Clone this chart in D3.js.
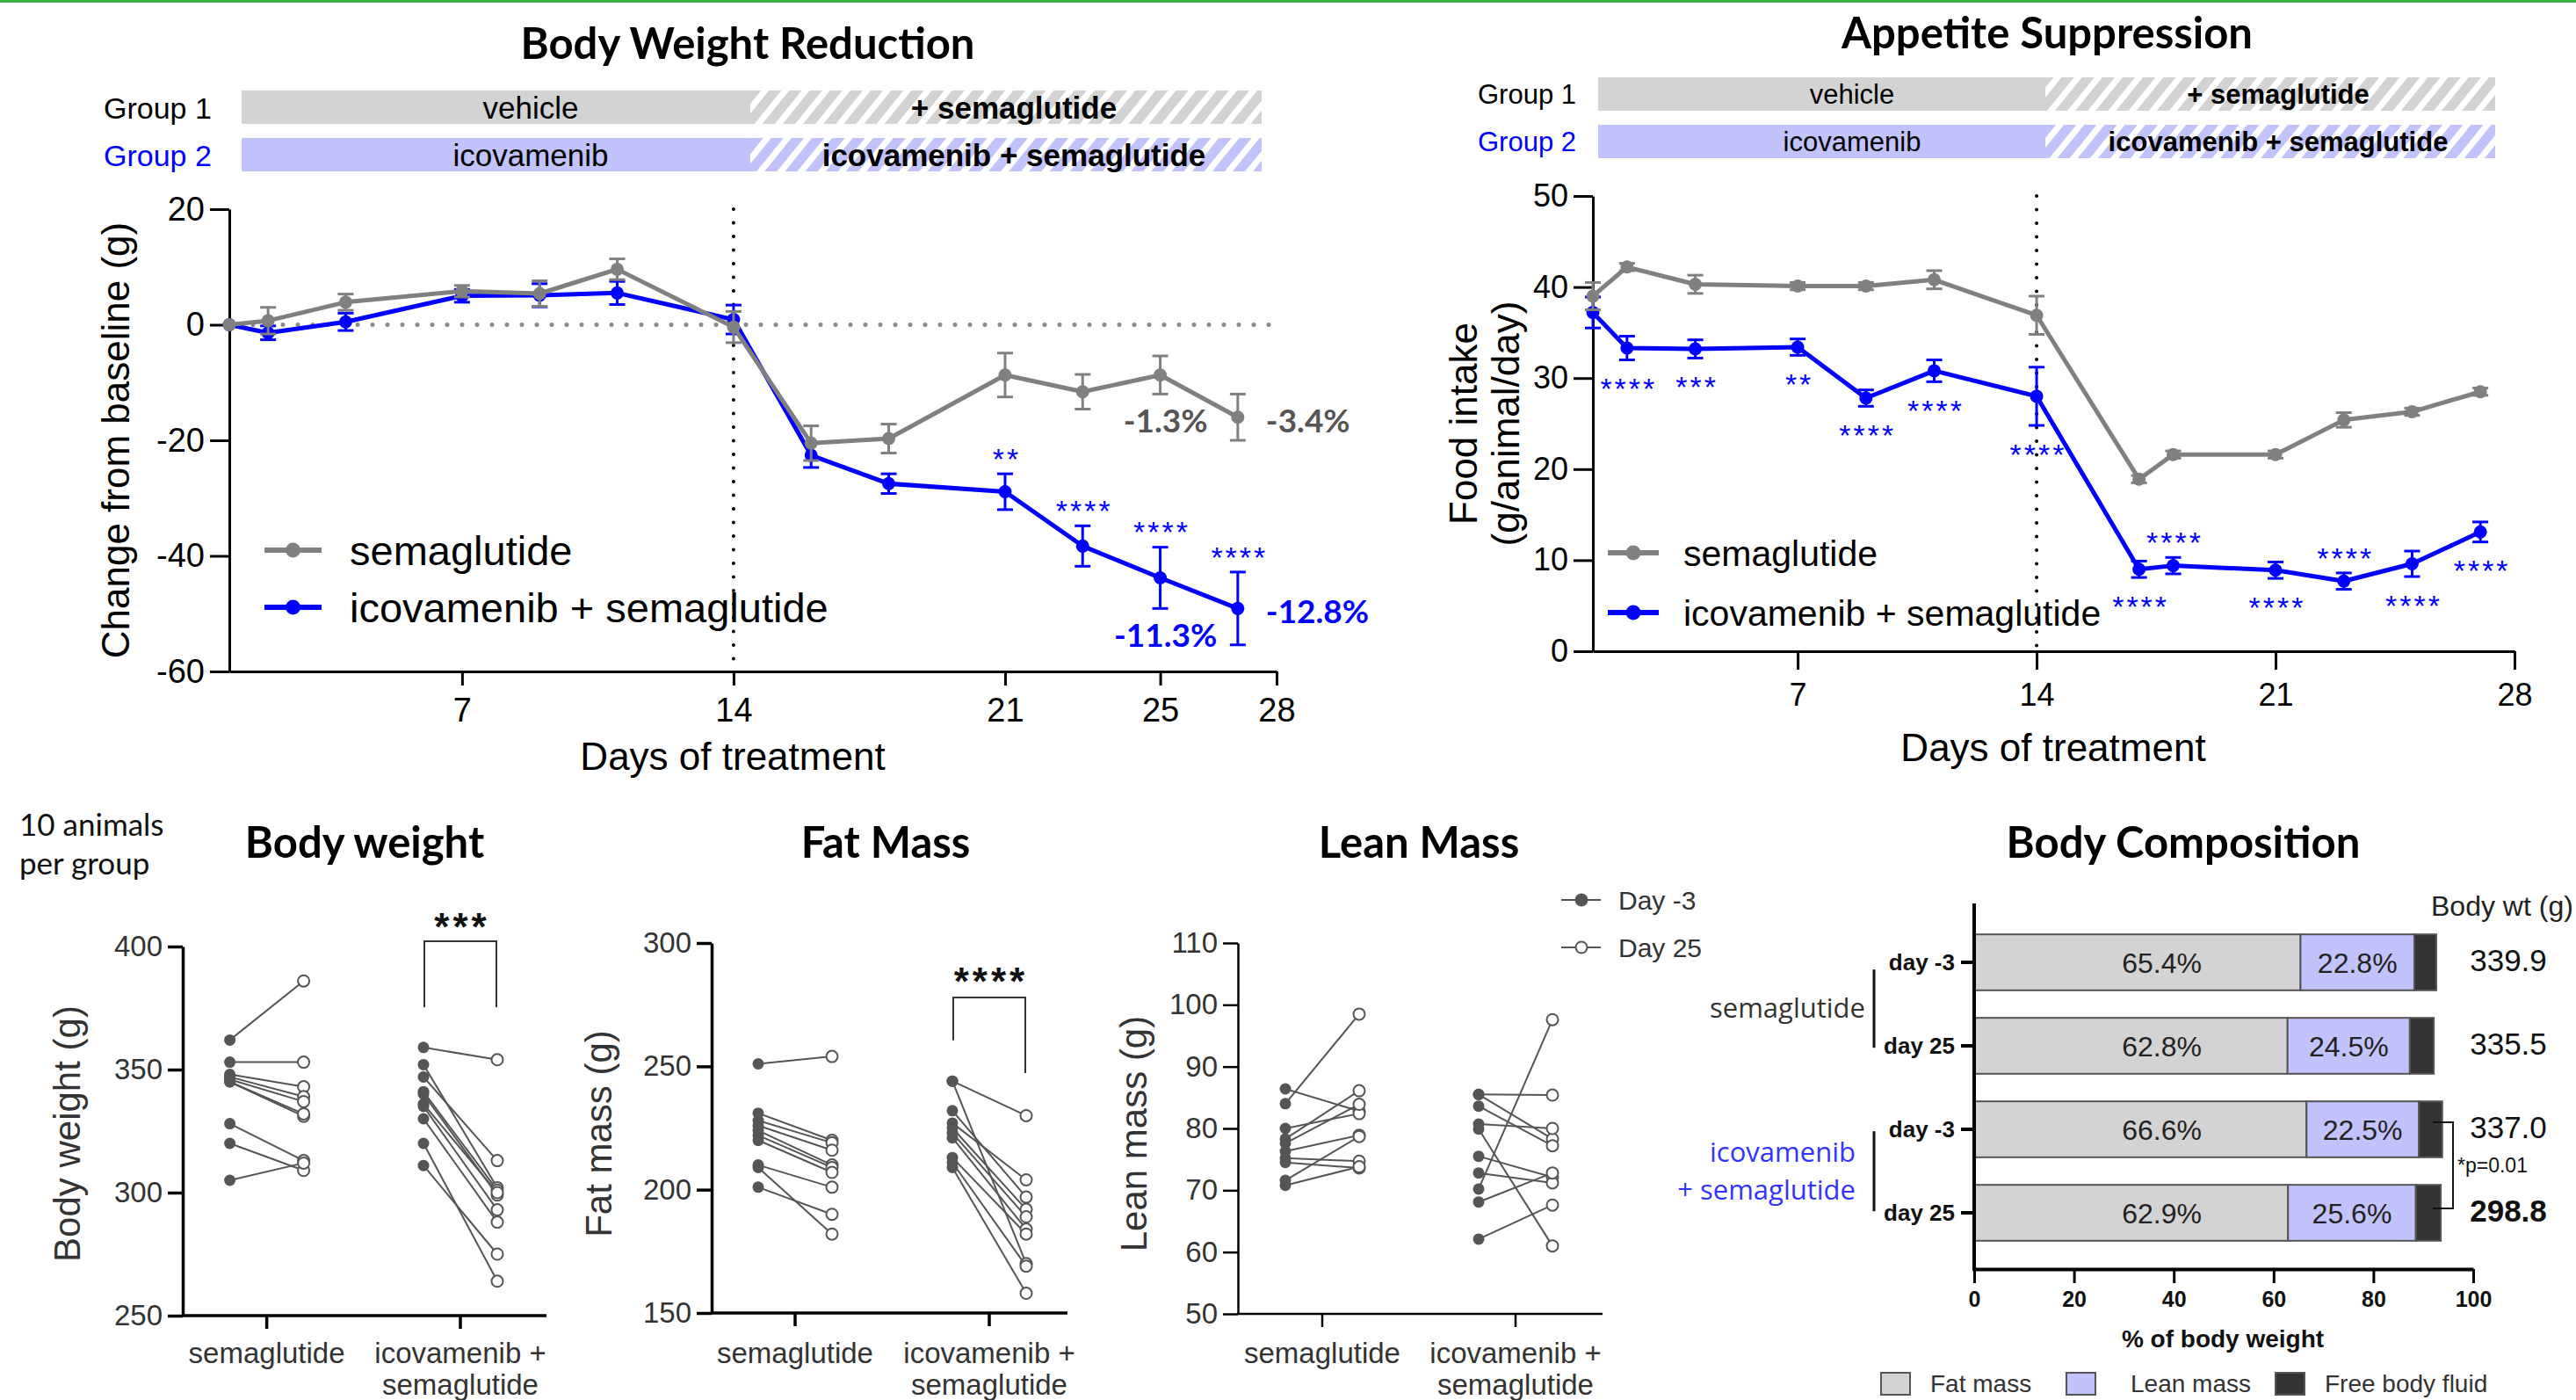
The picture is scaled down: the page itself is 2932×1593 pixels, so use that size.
<!DOCTYPE html>
<html>
<head>
<meta charset="utf-8">
<script src="https://cdn.jsdelivr.net/npm/d3@7"></script>
<style>
  body { margin: 0; background: #fff; }
  svg { display: block; }
</style>
</head>
<body>
<svg id="fig" width="2932" height="1593"></svg>
<script>
// ---------- data ----------
// Body weight change (g) over days of treatment
const bwDays = [1, 2, 4, 7, 9, 11, 14, 16, 18, 21, 23, 25, 27];
const bwSema = [0, 0.7, 3.9, 5.8, 5.4, 9.6, -0.4, -20.5, -19.7, -8.7, -11.6, -8.7, -16.0];
const bwSemaErr = [0, 2.3, 1.4, 1.0, 2.2, 1.8, 2.7, 3.0, 2.5, 3.8, 3.0, 3.3, 4.0];
const bwIcova = [0, -1.4, 0.5, 5.0, 5.1, 5.5, 0.9, -22.6, -27.5, -28.9, -38.3, -43.8, -49.1];
const bwIcovaErr = [0, 1.2, 1.5, 1.1, 2.0, 2.0, 2.5, 2.1, 1.7, 3.1, 3.5, 5.3, 6.3];
const bwStars = ["", "", "", "", "", "", "", "", "", "**", "****", "****", "****"];
const bwStarPlace = ["", "", "", "", "", "", "", "", "", "above", "above", "above", "above"];
const bwPctText = ["-1.3%", "-3.4%", "-11.3%", "-12.8%"];
const bwPctSeries = [0, 0, 1, 1];
const bwPctDay = [25, 27, 25, 27];
const bwPctPlace = ["below", "right", "below", "right"];

// Food intake (g/animal/day)
const fiDays = [1, 2, 4, 7, 9, 11, 14, 17, 18, 21, 23, 25, 27];
const fiSema = [39.0, 42.2, 40.3, 40.1, 40.1, 40.8, 36.9, 18.9, 21.6, 21.6, 25.4, 26.3, 28.5];
const fiSemaErr = [1.5, 0.4, 1.0, 0.4, 0.4, 1.0, 2.1, 0.4, 0.4, 0.4, 0.8, 0.4, 0.4];
const fiIcova = [37.2, 33.3, 33.2, 33.4, 27.8, 30.8, 28.0, 9.0, 9.4, 8.9, 7.7, 9.6, 13.1];
const fiIcovaErr = [1.7, 1.3, 1.0, 0.9, 0.9, 1.2, 3.2, 0.9, 0.9, 0.9, 0.9, 1.4, 1.1];
const fiStars = ["", "****", "***", "**", "****", "****", "****", "****", "****", "****", "****", "****", "****"];
const fiStarPlace = ["", "below", "below", "below", "below", "below", "below", "below", "above", "below", "above", "below", "below"];

const seriesNames = ["semaglutide", "icovamenib + semaglutide"];
const groupLabels = ["Group 1", "Group 2"];
const prePhase = ["vehicle", "icovamenib"];
const postPhase = ["+ semaglutide", "icovamenib + semaglutide"];

// Individual animals, day -3 vs day 25
const pairGroups = ["semaglutide", "icovamenib + semaglutide"];
const pairGroupLines = [["semaglutide"], ["icovamenib +", "semaglutide"]];
const pairDays = ["Day -3", "Day 25"];
const bwtSemaD3 = [362, 353, 348, 347, 346, 345, 345, 328, 320, 305];
const bwtSemaD25 = [386, 353, 343, 339, 337, 331, 332, 313, 309, 312];
const bwtIcovaD3 = [359, 352, 347, 341, 340, 336, 335, 330, 320, 311];
const bwtIcovaD25 = [354, 302, 313, 301, 299, 300, 293, 288, 264, 275];
const fatSemaD3 = [251, 231, 228, 226, 224, 222, 220, 210, 209, 201];
const fatSemaD25 = [254, 220, 219, 216, 210, 209, 207, 201, 182, 190];
const fatIcovaD3 = [244, 244, 232, 227, 225, 223, 221, 213, 211, 209];
const fatIcovaD25 = [230, 170, 197, 204, 192, 189, 184, 182, 169, 158];
const leanSemaD3 = [86.4, 84.0, 80.0, 78.3, 77.6, 76.3, 75.2, 74.5, 71.6, 70.8];
const leanSemaD25 = [82.8, 98.5, 82.4, 86.1, 83.9, 78.9, 74.7, 73.6, 78.7, 73.8];
const leanIcovaD3 = [85.5, 85.5, 83.6, 80.7, 79.9, 75.5, 72.8, 70.2, 68.1, 62.1];
const leanIcovaD25 = [85.4, 78.3, 77.2, 80.0, 61.0, 72.1, 71.2, 97.6, 72.8, 67.6];

// Body composition (% of body weight)
const compRows = ["day -3", "day 25", "day -3", "day 25"];
const compFat = [65.4, 62.8, 66.6, 62.9];
const compLean = [22.8, 24.5, 22.5, 25.6];
const compFluid = [4.4, 4.8, 4.7, 5.0];
const compBodyWt = ["339.9", "335.5", "337.0", "298.8"];
const compKeys = ["Fat mass", "Lean mass", "Free body fluid"];
const compTicks = [0, 20, 40, 60, 80, 100];

// ---------- drawing ----------
const ARIAL = '"Liberation Sans", Arial, Helvetica, sans-serif';
const CAL = 'Lato, "Open Sans", sans-serif';
const BLUE = "#0000ff";
const GRAY = "#808080";
const colors = [GRAY, BLUE];
const plain = d => String(d);   // hyphen minus, as in the original

const svg = d3.select("#fig").attr("font-family", ARIAL);
svg.append("rect").attr("width", 2932).attr("height", 1593).attr("fill", "#fff");
svg.append("rect").attr("width", 2932).attr("height", 3).attr("fill", "#3cb043");

const defs = svg.append("defs");
function hatch(id, base) {
  const p = defs.append("pattern").attr("id", id)
    .attr("patternUnits", "userSpaceOnUse").attr("width", 18).attr("height", 18)
    .attr("patternTransform", "rotate(39)");
  p.append("rect").attr("width", 18).attr("height", 18).attr("fill", base);
  p.append("rect").attr("width", 7).attr("height", 18).attr("fill", "#fff");
}
hatch("hGray", "#d3d3d3");
hatch("hBlue", "#c2c2fc");
const barBase = ["#d3d3d3", "#c2c2fc"];
const barHatch = ["url(#hGray)", "url(#hBlue)"];

function txt(g, x, y, s, fs, o = {}) {
  const t = g.append("text").attr("x", x).attr("y", y).attr("font-size", fs).text(s);
  if (o.anchor) t.attr("text-anchor", o.anchor);
  if (o.fill) t.attr("fill", o.fill);
  if (o.weight) t.attr("font-weight", o.weight);
  if (o.family) t.attr("font-family", o.family);
  if (o.rotate) t.attr("transform", `rotate(-90,${x},${y})`);
  if (o.ls) t.attr("letter-spacing", o.ls);
  return t;
}

function styleAxis(a, fs, color, sw) {
  a.attr("font-family", ARIAL).attr("font-size", fs);
  a.select(".domain").attr("stroke", "#000").attr("stroke-width", sw);
  a.selectAll(".tick line").attr("stroke", "#000").attr("stroke-width", sw);
  a.selectAll(".tick text").attr("fill", color);
}

function treatmentBars(o) {
  const g = svg.append("g");
  groupLabels.forEach((lab, i) => {
    const y0 = o.rows[i];
    g.append("rect").attr("x", o.x0).attr("y", y0).attr("width", o.split - o.x0).attr("height", o.h).attr("fill", barBase[i]);
    g.append("rect").attr("x", o.split).attr("y", y0).attr("width", o.x1 - o.split).attr("height", o.h).attr("fill", barHatch[i]);
    const by = y0 + o.h / 2 + o.fs * 0.36;
    txt(g, o.labelX, by, lab, o.lfs, { fill: i ? BLUE : "#000" });
    txt(g, o.preX, by, prePhase[i], o.fs, { anchor: "middle" });
    txt(g, o.postX, by, postPhase[i], o.fs, { anchor: "middle", weight: "bold" });
  });
}

function timeChart(o) {
  const g = svg.append("g");
  const x = d3.scaleLinear().domain([1, 28]).range([o.left, o.right]);
  const y = d3.scaleLinear().domain(o.yDomain).range([o.bottom, o.top]);

  if (o.zeroLine) {
    g.append("line").attr("x1", x(1) + 10).attr("x2", x(28)).attr("y1", y(0)).attr("y2", y(0))
      .attr("stroke", "#8a8a8a").attr("stroke-width", 5).attr("stroke-linecap", "round")
      .attr("stroke-dasharray", "0 17");
  }
  g.append("line").attr("x1", x(14)).attr("x2", x(14)).attr("y1", o.top).attr("y2", o.bottom)
    .attr("stroke", "#000").attr("stroke-width", 4).attr("stroke-linecap", "round")
    .attr("stroke-dasharray", "0 15.5");

  const ya = g.append("g").attr("transform", `translate(${o.left},0)`)
    .call(d3.axisLeft(y).tickValues(o.yTicks).tickFormat(plain).tickSize(22).tickSizeOuter(0).tickPadding(6));
  const xa = g.append("g").attr("transform", `translate(0,${o.bottom})`)
    .call(d3.axisBottom(x).tickValues(o.xTicks).tickFormat(plain).tickSize(o.xTickLen).tickSizeOuter(0).tickPadding(o.xTickPad));
  styleAxis(ya, o.tickFs, "#000", 3);
  styleAxis(xa, o.tickFs, "#000", 3);

  // axis titles
  o.yLabel.forEach((l, i) => txt(g, o.yLabelX[i], (o.top + o.bottom) / 2, l, 44, { anchor: "middle", rotate: true }));
  txt(g, o.xLabelX, o.xLabelY, "Days of treatment", 44, { anchor: "middle" });

  // series: blue drawn first, gray on top
  [1, 0].forEach(si => {
    const s = o.series[si];
    const pts = o.days.map((d, i) => ({ d, v: s.values[i], e: s.errors[i] }));
    g.append("path").datum(pts)
      .attr("d", d3.line().x(p => x(p.d)).y(p => y(p.v)))
      .attr("fill", "none").attr("stroke", colors[si]).attr("stroke-width", 5).attr("stroke-linejoin", "round");
    const eb = g.append("g").attr("stroke", colors[si]).attr("stroke-width", 3);
    pts.filter(p => p.e > 0).forEach(p => {
      eb.append("line").attr("x1", x(p.d)).attr("x2", x(p.d)).attr("y1", y(p.v - p.e)).attr("y2", y(p.v + p.e));
      [p.v - p.e, p.v + p.e].forEach(v =>
        eb.append("line").attr("x1", x(p.d) - 9).attr("x2", x(p.d) + 9).attr("y1", y(v)).attr("y2", y(v)));
    });
    g.append("g").selectAll("circle").data(pts).join("circle")
      .attr("cx", p => x(p.d)).attr("cy", p => y(p.v)).attr("r", 7.5).attr("fill", colors[si]);
  });

  // significance stars (blue series)
  const st = o.series[1];
  o.days.forEach((d, i) => {
    if (!o.stars[i]) return;
    const v = st.values[i], e = st.errors[i];
    const c = o.starPlace[i] === "above" ? y(v + e) - 25 : y(v - e) + 25;
    txt(g, x(d) + 2, c + 0.58 * 34, o.stars[i], 34, { anchor: "middle", fill: BLUE, ls: 3 });
  });

  // legend
  o.series.forEach((s, i) => {
    const ly = o.legY[i];
    g.append("line").attr("x1", o.legX0).attr("x2", o.legX1).attr("y1", ly).attr("y2", ly)
      .attr("stroke", colors[i]).attr("stroke-width", 6);
    g.append("circle").attr("cx", (o.legX0 + o.legX1) / 2).attr("cy", ly).attr("r", 8.5).attr("fill", colors[i]);
    txt(g, o.legTX, ly + 0.36 * o.legFs, seriesNames[i], o.legFs);
  });
  return { g, x, y };
}

// ---- top left: body weight reduction ----
txt(svg, 851, 67, "Body Weight Reduction", 49, { anchor: "middle", weight: "bold", family: CAL });
treatmentBars({ x0: 275, split: 854, x1: 1436, rows: [103, 157], h: 38, labelX: 118, lfs: 34, fs: 35, preX: 604, postX: 1154 });
const tl = timeChart({
  left: 261, right: 1453, top: 238, bottom: 764,
  yDomain: [-60, 20], yTicks: [-60, -40, -20, 0, 20], xTicks: [7, 14, 21, 25, 28],
  xTickLen: 16, xTickPad: 14, tickFs: 38, zeroLine: true,
  days: bwDays,
  series: [{ values: bwSema, errors: bwSemaErr }, { values: bwIcova, errors: bwIcovaErr }],
  stars: bwStars, starPlace: bwStarPlace,
  yLabel: ["Change from baseline (g)"], yLabelX: [147],
  xLabelX: 834, xLabelY: 876,
  legX0: 301, legX1: 366, legY: [626, 691], legTX: 398, legFs: 47
});
bwPctText.forEach((t, i) => {
  const s = bwPctSeries[i] ? [bwIcova, bwIcovaErr] : [bwSema, bwSemaErr];
  const k = bwDays.indexOf(bwPctDay[i]);
  const px = tl.x(bwPctDay[i]);
  const fill = bwPctSeries[i] ? BLUE : "#555";
  if (bwPctPlace[i] === "below") {
    const cy = tl.y(s[0][k] - s[1][k]) + 31;
    txt(tl.g, px + 6, cy + 13, t, 37, { anchor: "middle", weight: "bold", family: CAL, fill });
  } else {
    const cy = tl.y(s[0][k]) + 4;
    txt(tl.g, px + 32, cy + 13, t, 37, { weight: "bold", family: CAL, fill });
  }
});

// ---- top right: appetite suppression ----
txt(svg, 2330, 55, "Appetite Suppression", 49, { anchor: "middle", weight: "bold", family: CAL });
treatmentBars({ x0: 1819, split: 2328, x1: 2840, rows: [88, 142], h: 38, labelX: 1682, lfs: 31, fs: 31, preX: 2108, postX: 2593 });
timeChart({
  left: 1813, right: 2862, top: 223, bottom: 741,
  yDomain: [0, 50], yTicks: [0, 10, 20, 30, 40, 50], xTicks: [7, 14, 21, 28],
  xTickLen: 21, xTickPad: 15, tickFs: 36, zeroLine: false,
  days: fiDays,
  series: [{ values: fiSema, errors: fiSemaErr }, { values: fiIcova, errors: fiIcovaErr }],
  stars: fiStars, starPlace: fiStarPlace,
  yLabel: ["Food intake", "(g/animal/day)"], yLabelX: [1681, 1729],
  xLabelX: 2337, xLabelY: 866,
  legX0: 1830, legX1: 1888, legY: [629, 697], legTX: 1916, legFs: 41
});

// ---- bottom: paired plots ----
txt(svg, 22, 951, "10 animals", 35, { family: CAL, fill: "#111" });
txt(svg, 22, 995, "per group", 35, { family: CAL, fill: "#111" });

function pairedPlot(o) {
  const g = svg.append("g");
  const y = d3.scaleLinear().domain(o.yDomain).range([o.bottom, o.top]);
  const x = d3.scalePoint().domain(pairGroups).range(o.cats);
  txt(svg, o.titleX, 976, o.title, 49, { anchor: "middle", weight: "bold", family: CAL });

  const ya = g.append("g").attr("transform", `translate(${o.left},0)`)
    .call(d3.axisLeft(y).tickValues(o.yTicks).tickFormat(plain).tickSize(17).tickSizeOuter(0).tickPadding(6));
  styleAxis(ya, 33, "#333", o.sw);
  g.append("line").attr("x1", o.left).attr("x2", o.right).attr("y1", o.bottom).attr("y2", o.bottom)
    .attr("stroke", "#000").attr("stroke-width", o.sw);
  pairGroups.forEach((c, ci) => {
    g.append("line").attr("x1", x(c)).attr("x2", x(c)).attr("y1", o.bottom).attr("y2", o.bottom + 15)
      .attr("stroke", "#000").attr("stroke-width", o.sw);
    pairGroupLines[ci].forEach((l, li) => txt(g, x(c), 1551 + li * 36, l, 33, { anchor: "middle", fill: "#333" }));
  });
  txt(g, o.yLabelX, 1290, o.yLabel, 42, { anchor: "middle", rotate: true, fill: "#333" });

  o.data.forEach((grp, ci) => {
    const cx = x(pairGroups[ci]);
    const [a, b] = grp;
    g.append("g").selectAll("line").data(a).join("line")
      .attr("x1", cx - 42).attr("x2", cx + 42)
      .attr("y1", d => y(d)).attr("y2", (d, i) => y(b[i]))
      .attr("stroke", "#555").attr("stroke-width", 2);
    g.append("g").selectAll("circle").data(a).join("circle")
      .attr("cx", cx - 42).attr("cy", d => y(d)).attr("r", 6.5).attr("fill", "#555");
    g.append("g").selectAll("circle").data(b).join("circle")
      .attr("cx", cx + 42).attr("cy", d => y(d)).attr("r", 6.5)
      .attr("fill", "#fff").attr("stroke", "#555").attr("stroke-width", 2);
  });

  if (o.bracket) {
    const bk = o.bracket, cx = x(pairGroups[1]);
    g.append("path")
      .attr("d", `M${cx - 41},${y(bk.leftLeg)}V${y(bk.top)}H${cx + 41}V${y(bk.rightLeg)}`)
      .attr("fill", "none").attr("stroke", "#333").attr("stroke-width", 2);
    txt(g, cx + 2, y(bk.starAt) + 0.58 * 44, bk.stars, 44, { anchor: "middle", fill: "#111", ls: 4, weight: "bold" });
  }
}

pairedPlot({
  title: "Body weight", titleX: 415, left: 208, right: 622, top: 1077, bottom: 1497,
  yDomain: [250, 400], yTicks: [250, 300, 350, 400], cats: [303.6, 524], sw: 3.5,
  yLabel: "Body weight (g)", yLabelX: 91,
  data: [[bwtSemaD3, bwtSemaD25], [bwtIcovaD3, bwtIcovaD25]],
  bracket: { top: 402.1, leftLeg: 375.4, rightLeg: 375.4, stars: "***", starAt: 411.5 }
});
pairedPlot({
  title: "Fat Mass", titleX: 1008, left: 810, right: 1215, top: 1073, bottom: 1494,
  yDomain: [150, 300], yTicks: [150, 200, 250, 300], cats: [905, 1126], sw: 3.5,
  yLabel: "Fat mass (g)", yLabelX: 696,
  data: [[fatSemaD3, fatSemaD25], [fatIcovaD3, fatIcovaD25]],
  bracket: { top: 277.9, leftLeg: 260.5, rightLeg: 247.3, stars: "****", starAt: 288.2 }
});
pairedPlot({
  title: "Lean Mass", titleX: 1615, left: 1409, right: 1824, top: 1073, bottom: 1495,
  yDomain: [50, 110], yTicks: [50, 60, 70, 80, 90, 100, 110], cats: [1505, 1725], sw: 2.5,
  yLabel: "Lean mass (g)", yLabelX: 1305,
  data: [[leanSemaD3, leanSemaD25], [leanIcovaD3, leanIcovaD25]]
});

// Day -3 / Day 25 legend
pairDays.forEach((d, i) => {
  const ly = 1024 + i * 54;
  svg.append("line").attr("x1", 1777).attr("x2", 1822).attr("y1", ly).attr("y2", ly).attr("stroke", "#555").attr("stroke-width", 2);
  svg.append("circle").attr("cx", 1800).attr("cy", ly).attr("r", 6.5)
    .attr("fill", i ? "#fff" : "#555").attr("stroke", "#555").attr("stroke-width", 2);
  txt(svg, 1842, ly + 11, d, 30, { fill: "#333" });
});

// ---- body composition ----
txt(svg, 2485, 976, "Body Composition", 49, { anchor: "middle", weight: "bold", family: CAL });
const bx = d3.scaleLinear().domain([0, 100]).range([2247, 2815]);
const by = d3.scaleBand().domain(d3.range(compRows.length)).range([1047.5, 1427.5]).paddingInner(0.33).paddingOuter(0.165);
const compData = compRows.map((r, i) => ({ "Fat mass": compFat[i], "Lean mass": compLean[i], "Free body fluid": compFluid[i] }));
const stack = d3.stack().keys(compKeys)(compData);
const compColors = ["#d3d3d3", "#c2c2fc", "#333333"];
const cg = svg.append("g");
stack.forEach((layer, li) => {
  cg.append("g").selectAll("rect").data(layer).join("rect")
    .attr("x", d => bx(d[0])).attr("width", d => bx(d[1]) - bx(d[0]))
    .attr("y", (d, i) => by(i)).attr("height", by.bandwidth())
    .attr("fill", compColors[li]).attr("stroke", "#555").attr("stroke-width", 2);
});
compRows.forEach((r, i) => {
  const cy = by(i) + by.bandwidth() / 2;
  txt(cg, bx(37.6), cy + 11.5, compFat[i].toFixed(1) + "%", 32, { anchor: "middle", fill: "#222" });
  txt(cg, bx(compFat[i] + compLean[i] / 2), cy + 11.5, compLean[i].toFixed(1) + "%", 32, { anchor: "middle", fill: "#222" });
  txt(cg, 2855, cy + 10, compBodyWt[i], 35, { anchor: "middle", fill: "#111", weight: i === 3 ? "bold" : null });
});
txt(cg, 2767, 1042, "Body wt (g)", 32, { fill: "#222" });

const cxa = cg.append("g").attr("transform", "translate(0,1444)")
  .call(d3.axisBottom(bx).tickValues(compTicks).tickSize(16).tickSizeOuter(0).tickPadding(9));
styleAxis(cxa, 25, "#111", 4);
cxa.selectAll(".tick text").attr("font-weight", "bold");
cxa.selectAll(".tick line").attr("stroke-width", 3);
const cya = cg.append("g").attr("transform", "translate(2247,0)")
  .call(d3.axisLeft(by).tickFormat(i => compRows[i]).tickSize(15).tickSizeOuter(0).tickPadding(7));
styleAxis(cya, 26, "#111", 4);
cya.select(".domain").remove();
cya.selectAll(".tick text").attr("font-weight", "bold").attr("dy", "0.33em");
cg.append("line").attr("x1", 2247).attr("x2", 2247).attr("y1", 1028).attr("y2", 1446).attr("stroke", "#000").attr("stroke-width", 4);
txt(cg, 2530, 1533, "% of body weight", 28, { anchor: "middle", weight: "bold", fill: "#111" });

// group brackets on left
const grpY = [[by(0) + 40, by(1) + 34], [by(2) + 34, by(3) + 30]];
grpY.forEach(([a, b]) => cg.append("line").attr("x1", 2133).attr("x2", 2133).attr("y1", a).attr("y2", b).attr("stroke", "#111").attr("stroke-width", 3));
txt(cg, 2123, 1158, "semaglutide", 31, { anchor: "end", family: '"Open Sans", sans-serif', fill: "#333" });
txt(cg, 2112, 1322, "icovamenib", 31, { anchor: "end", family: '"Open Sans", sans-serif', fill: "#3333ff" });
txt(cg, 2112, 1365, "+ semaglutide", 31, { anchor: "end", family: '"Open Sans", sans-serif', fill: "#3333ff" });

// p-value bracket between the two icovamenib rows
const pA = by(2) + by.bandwidth() / 2 - 8, pB = by(3) + by.bandwidth() / 2 - 5;
cg.append("path").attr("d", `M2769,${pA}H2792V${pB}H2769`).attr("fill", "none").attr("stroke", "#111").attr("stroke-width", 2);
txt(cg, 2797, (pA + pB) / 2 + 8, "*p=0.01", 23, { fill: "#111" });

// legend
const legX = [2141, 2352, 2590];
const legTX = [2197, 2425, 2646];
compKeys.forEach((k, i) => {
  cg.append("rect").attr("x", legX[i]).attr("y", 1562).attr("width", 33).attr("height", 25)
    .attr("fill", compColors[i]).attr("stroke", "#555").attr("stroke-width", 2);
  txt(cg, legTX[i], 1584, k, 28, { fill: "#333" });
});
</script>
</body>
</html>
